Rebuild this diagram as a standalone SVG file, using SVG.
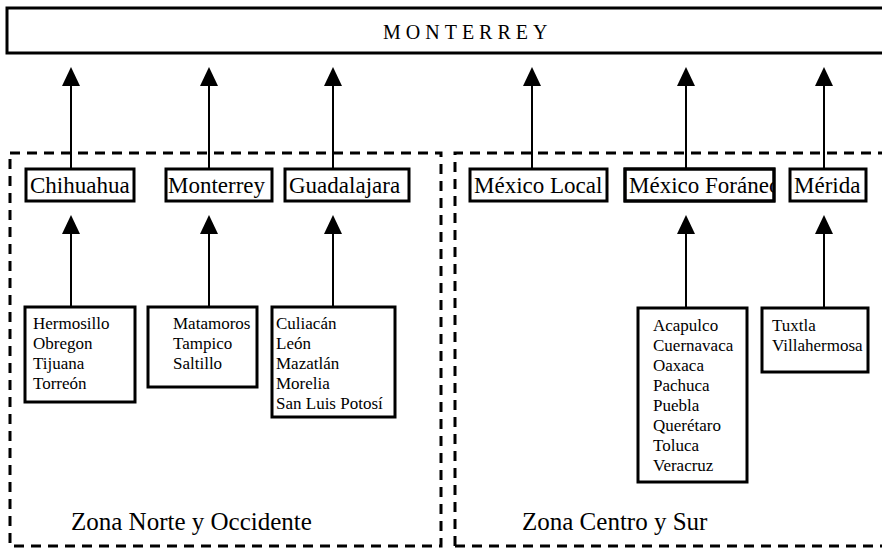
<svg xmlns="http://www.w3.org/2000/svg" width="882" height="551" viewBox="0 0 882 551">
<defs>
<style>
.box{fill:#fff;stroke:#000;stroke-width:3}
.frame{fill:none;stroke:#000;stroke-width:3}
.zone{fill:none;stroke:#000;stroke-width:3;stroke-dasharray:10 7}
.conn{stroke:#000;stroke-width:2;fill:none}
.t2{font-family:"Liberation Serif",serif;font-size:23px;fill:#000}
.t3{font-family:"Liberation Serif",serif;font-size:17px;fill:#000}
.tz{font-family:"Liberation Serif",serif;font-size:25px;fill:#000}
.title{font-family:"Liberation Serif",serif;font-size:20px;letter-spacing:5px;fill:#000}
</style>
<clipPath id="clipForaneo"><rect x="625" y="169" width="149" height="32"/></clipPath>
</defs>
<rect width="882" height="551" fill="#fff"/>

<g id="zones">
<path class="zone" d="M10,153 H441 V546 H10 Z"/>
<path class="zone" d="M455,546 V153 H890 M455,546 H890"/>
</g>

<g id="monterrey-top">
<rect class="box" x="7" y="8" width="890" height="45"/>
<text class="title" x="383" y="39">MONTERREY</text>
</g>

<g id="connectors">
<line class="conn" x1="71" y1="168" x2="71" y2="72" />
<line class="conn" x1="209" y1="168" x2="209" y2="72" />
<line class="conn" x1="333" y1="168" x2="333" y2="72" />
<line class="conn" x1="532" y1="168" x2="532" y2="72" />
<line class="conn" x1="686" y1="168" x2="686" y2="72" />
<line class="conn" x1="824" y1="168" x2="824" y2="72" />
<line class="conn" x1="71" y1="307" x2="71" y2="219" />
<line class="conn" x1="209" y1="307" x2="209" y2="219" />
<line class="conn" x1="333" y1="307" x2="333" y2="219" />
<line class="conn" x1="686" y1="308" x2="686" y2="219" />
<line class="conn" x1="824" y1="308" x2="824" y2="219" />
<g fill="#000">
<path d="M71,67 L62,86 L80,86 Z"/>
<path d="M209,67 L200,86 L218,86 Z"/>
<path d="M333,67 L324,86 L342,86 Z"/>
<path d="M532,67 L523,86 L541,86 Z"/>
<path d="M686,67 L677,86 L695,86 Z"/>
<path d="M824,67 L815,86 L833,86 Z"/>
<path d="M71,215 L62,234 L80,234 Z"/>
<path d="M209,215 L200,234 L218,234 Z"/>
<path d="M333,215 L324,234 L342,234 Z"/>
<path d="M686,215 L677,234 L695,234 Z"/>
<path d="M824,215 L815,234 L833,234 Z"/>
</g>
</g>

<g id="chihuahua"><rect class="box" x="26" y="169" width="108" height="32"/><text class="t2" x="30" y="193">Chihuahua</text></g>
<g id="monterrey"><rect class="box" x="166" y="169" width="106" height="32"/><text class="t2" x="168" y="193">Monterrey</text></g>
<g id="guadalajara"><rect class="box" x="285" y="169" width="124" height="32"/><text class="t2" x="289" y="193">Guadalajara</text></g>
<g id="mexico-local"><rect class="box" x="470" y="169" width="137" height="32"/><text class="t2" x="474" y="193">México Local</text></g>
<g id="mexico-foraneo"><rect class="box" x="625" y="169" width="149" height="32"/><text class="t2" x="629" y="193" clip-path="url(#clipForaneo)">México Foráneo</text><rect class="frame" x="625" y="169" width="149" height="32"/></g>
<g id="merida"><rect class="box" x="790" y="169" width="76" height="32"/><text class="t2" x="794" y="193">Mérida</text></g>

<g id="norte-list"><rect class="box" x="25" y="307" width="110" height="95"/>
<text class="t3" x="33" y="329">Hermosillo</text><text class="t3" x="33" y="349">Obregon</text><text class="t3" x="33" y="369">Tijuana</text><text class="t3" x="33" y="389">Torreón</text></g>
<g id="noreste-list"><rect class="box" x="148" y="307" width="109" height="80"/>
<text class="t3" x="173" y="329">Matamoros</text><text class="t3" x="173" y="349">Tampico</text><text class="t3" x="173" y="369">Saltillo</text></g>
<g id="occidente-list"><rect class="box" x="272" y="307" width="123" height="110"/>
<text class="t3" x="276" y="329">Culiacán</text><text class="t3" x="276" y="349">León</text><text class="t3" x="276" y="369">Mazatlán</text><text class="t3" x="276" y="389">Morelia</text><text class="t3" x="276" y="409">San Luis Potosí</text></g>
<g id="centro-list"><rect class="box" x="638" y="308" width="109" height="174"/>
<text class="t3" x="653" y="331">Acapulco</text><text class="t3" x="653" y="351">Cuernavaca</text><text class="t3" x="653" y="371">Oaxaca</text><text class="t3" x="653" y="391">Pachuca</text><text class="t3" x="653" y="411">Puebla</text><text class="t3" x="653" y="431">Querétaro</text><text class="t3" x="653" y="451">Toluca</text><text class="t3" x="653" y="471">Veracruz</text></g>
<g id="sur-list"><rect class="box" x="762" y="308" width="106" height="64"/>
<text class="t3" x="772" y="331">Tuxtla</text><text class="t3" x="772" y="351">Villahermosa</text></g>

<g id="zone-labels">
<text class="tz" x="71" y="530">Zona Norte y Occidente</text>
<text class="tz" x="522" y="530">Zona Centro y Sur</text>
</g>
</svg>
